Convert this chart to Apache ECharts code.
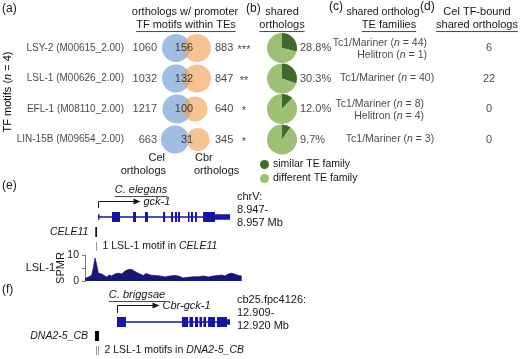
<!DOCTYPE html>
<html>
<head>
<meta charset="utf-8">
<script src="https://cdn.jsdelivr.net/npm/echarts@6/dist/echarts.min.js"></script>
<style>
html,body{margin:0;padding:0;background:#fff;}
#chart{width:520px;height:359px;}
</style>
</head>
<body>
<div id="chart"></div>
<script>
// ---------------- data ----------------
const motifNames = ['LSY-2 (M00615_2.00)', 'LSL-1 (M00626_2.00)', 'EFL-1 (M08110_2.00)', 'LIN-15B (M09654_2.00)'];
const celOrthologs = [1060, 1032, 1217, 663];
const sharedOrthologs = [156, 132, 100, 31];
const cbrOrthologs = [883, 847, 640, 345];
const significance = ['***', '**', '*', '*'];
const similarTEPct = [28.8, 30.3, 12.0, 9.7];
const tc1MarinerN = [44, 40, 8, 3];
const helitronN = [1, null, 4, null];
const celTFBoundShared = [6, 22, 0, 0];

// (e) C. elegans gck-1 locus; positions in kb from window start
const celWindowMb = ['8.947', '8.957'];
const celGene = [0.83, 9.24];
const celCDS = [[1.72, 2.23], [3.06, 3.25], [3.82, 4.01], [4.97, 5.10], [5.48, 5.61], [5.73, 5.86], [5.92, 6.05], [6.56, 6.66], [6.75, 6.88], [7.01, 7.13], [7.52, 8.28]];
const celUTR = [[0.83, 0.92], [8.28, 9.24]];
const cele11TE = [0.66, 0.76];
const celMotifs = [0.71];
const spmrPos = [0.00, 0.21, 0.42, 0.53, 0.64, 0.74, 0.85, 1.06, 1.17, 1.38, 1.55, 1.70, 1.91, 2.12, 2.34, 2.55, 2.76, 2.97, 3.08, 3.29, 3.50, 3.72, 3.89, 4.14, 4.46, 4.78, 5.10, 5.41, 5.73, 5.94, 6.26, 6.58, 6.90, 7.22, 7.54, 7.85, 8.17, 8.49, 8.71, 8.92, 9.13, 9.34, 9.55, 9.77, 9.98];
const spmrVal = [0.9, 1.5, 2.1, 5.0, 8.8, 6.2, 3.0, 2.7, 2.3, 1.5, 2.3, 1.9, 2.7, 3.0, 2.7, 3.8, 4.4, 4.4, 4.7, 3.3, 2.7, 2.1, 2.9, 2.3, 2.1, 1.9, 1.5, 1.9, 2.1, 1.9, 1.2, 1.4, 1.6, 1.6, 1.9, 1.5, 1.9, 2.1, 2.3, 1.9, 2.7, 3.0, 2.6, 2.1, 1.9];

// (f) C. briggsae Cbr-gck-1 locus; positions in kb from window start
const cbrWindowMb = ['12.909', '12.920'];
const cbrGene = [2.24, 10.16];
const cbrCDS = [[2.24, 2.87], [6.80, 7.22], [7.32, 7.57], [7.71, 7.92], [8.02, 8.20], [8.30, 8.48], [8.62, 9.11], [9.25, 9.95]];
const cbrUTR = [[9.95, 10.16]];
const dna25TE = [0.70, 0.98];
const cbrMotifs = [0.74, 0.88];

// ---------------- layout / style ----------------
const FONT = '"Liberation Sans", Arial, Helvetica, sans-serif';
const INK = '#161616';
const BLUE = '#a0bde2', ORANGE = '#f0a050';
const DARKG = '#3e6b2d', LIGHTG = '#9dc074';
const GENE = '#1616a6', TRACK = '#17177a';
const TOP = 32.75, BAND = 30.5;
const rowY = i => TOP + (i + 0.5) * BAND;
const ROWS = motifNames.map((_, i) => i);
const celX = [176, 176, 177, 175], celR = [14, 14, 14.5, 14];
const cbrX = [197, 197, 195, 198], cbrR = [14, 14, 12.5, 11.5];

const mctx = document.createElement('canvas').getContext('2d');
function tw(text, size, style) { mctx.font = (style || '') + ' ' + size + 'px ' + FONT; return mctx.measureText(text).width; }

const rich = {
  t: { fontFamily: FONT, fontSize: 10.5, color: INK },
  i: { fontFamily: FONT, fontSize: 10.5, color: INK, fontStyle: 'italic' }
};

function textCol(x, texts, o) {
  o = o || {};
  return {
    type: 'scatter', xAxisIndex: 0, yAxisIndex: 0, symbolSize: 0, silent: true, z: 10,
    data: texts.map((t, i) => t == null ? null : { value: [x, i], label: { formatter: String(t) } }).filter(d => d),
    label: {
      show: true, position: 'inside', align: o.align || 'center', verticalAlign: 'middle',
      offset: o.offset || [0, 0], fontFamily: FONT, fontSize: o.size || 11, color: INK, rich: o.rich
    }
  };
}

function headerText(x, y, text, size, align, underline, italic) {
  const els = [{
    type: 'text', x: x, y: y, silent: true,
    style: { text: text, font: (italic ? 'italic ' : '') + size + 'px ' + FONT, fill: INK, align: align || 'center', verticalAlign: 'middle' }
  }];
  if (underline) {
    const w = tw(text, size, italic ? 'italic' : '');
    const x0 = align === 'left' ? x : (align === 'right' ? x - w : x - w / 2);
    els.push({ type: 'line', silent: true, shape: { x1: x0, y1: y + size * 0.55 + 0.5, x2: x0 + w, y2: y + size * 0.55 + 0.5 }, style: { stroke: INK, lineWidth: 0.8 } });
  }
  return els;
}

// gene model series (exons, UTRs, gene line)
function geneSeries(g, gene, cds, utr) {
  const items = [[gene[0], gene[1], 0]].concat(utr.map(u => [u[0], u[1], 1])).concat(cds.map(c => [c[0], c[1], 2]));
  return {
    type: 'custom', xAxisIndex: g, yAxisIndex: g, silent: true, data: items,
    encode: { x: [0, 1], y: 2 },
    renderItem(params, api) {
      const a = api.coord([api.value(0), 0.5]), b = api.coord([api.value(1), 0.5]);
      const k = api.value(2);
      const h = k === 2 ? 10 : (k === 1 ? 5.5 : 1.3);
      return { type: 'rect', shape: { x: a[0], y: a[1] - h / 2, width: Math.max(b[0] - a[0], 1.3), height: h }, style: { fill: GENE } };
    }
  };
}
function tssSeries(g, gene, label, up) {
  return {
    type: 'custom', xAxisIndex: g, yAxisIndex: g, silent: true, data: [[gene[0], 0.5]],
    renderItem(params, api) {
      const p = api.coord([api.value(0), 0.5]);
      const x = Math.round(p[0]) + 0.5, yb = p[1] - 9, yt = Math.round(p[1] - up) + 0.5, x1 = x + 42;
      return {
        type: 'group', children: [
          { type: 'polyline', shape: { points: [[x, yb], [x, yt], [x1 - 5, yt]] }, style: { stroke: INK, lineWidth: 1, fill: null } },
          { type: 'polygon', shape: { points: [[x1 - 7, yt - 3], [x1, yt], [x1 - 7, yt + 3]] }, style: { fill: INK } },
          { type: 'text', style: { text: label, x: x1 + 3, y: yt, verticalAlign: 'middle', font: 'italic 11px ' + FONT, fill: INK } }
        ]
      };
    }
  };
}
function teSeries(g, te, teName, motifs, motifText, teTop, teBot) {
  return [{
    type: 'custom', xAxisIndex: g, yAxisIndex: g, silent: true, data: [[te[0], te[1]]],
    renderItem(params, api) {
      const a = api.coord([api.value(0), 0.5]), b = api.coord([api.value(1), 0.5]);
      return {
        type: 'group', children: [
          { type: 'rect', shape: { x: a[0], y: a[1] + teTop, width: Math.max(b[0] - a[0], 1.6), height: teBot - teTop }, style: { fill: '#000' } },
          { type: 'text', style: { text: teName, x: a[0] - 7, y: a[1] + (teTop + teBot) / 2, align: 'right', verticalAlign: 'middle', font: 'italic 10.5px ' + FONT, fill: INK } }
        ]
      };
    }
  }, {
    type: 'custom', xAxisIndex: g, yAxisIndex: g, silent: true, data: motifs.map((m, i) => [m, i]),
    renderItem(params, api) {
      const p = api.coord([api.value(0), 0.5]);
      const x = Math.round(p[0]) + 0.5;
      const ch = [{ type: 'line', shape: { x1: x, y1: p[1] + teBot + 5, x2: x, y2: p[1] + teBot + 14 }, style: { stroke: '#9a9a9a', lineWidth: 1 } }];
      if (params.dataIndex === motifs.length - 1) {
        ch.push({ type: 'text', style: { text: motifText, x: x + 6, y: p[1] + teBot + 9.5, verticalAlign: 'middle', rich: rich, font: '10.5px ' + FONT, fill: INK } });
      }
      return { type: 'group', children: ch };
    }
  }];
}

// ---------------- build option ----------------
const series = [];
// (a) Venn circles
series.push({
  type: 'scatter', xAxisIndex: 0, yAxisIndex: 0, silent: true, z: 2,
  data: ROWS.map(i => [celX[i], i]), symbolSize: (v, p) => celR[p.dataIndex] * 2,
  itemStyle: { color: BLUE, opacity: 1 }
});
series.push({
  type: 'scatter', xAxisIndex: 0, yAxisIndex: 0, silent: true, z: 3,
  data: ROWS.map(i => [cbrX[i], i]), symbolSize: (v, p) => cbrR[p.dataIndex] * 2,
  itemStyle: { color: ORANGE, opacity: 0.62 }
});
series.push(textCol(124, motifNames, { align: 'right', size: 10 }));
series.push(textCol(157, celOrthologs, { align: 'right' }));
series.push({ ...textCol(0, sharedOrthologs), data: ROWS.map(i => ({ value: [[184, 184, 184, 187][i], i], label: { formatter: String(sharedOrthologs[i]) } })) });
series.push(textCol(215, cbrOrthologs, { align: 'left' }));
series.push(textCol(244, significance, { size: 11, offset: [0, 2] }));
// (b) percentages
series.push(textCol(300, similarTEPct.map(v => v.toFixed(1) + '%'), { align: 'left' }));
// (c) TE families
const famRow = (i, name, n) => '{t|' + name + ' (}{i|n}{t| = ' + n + ')}';
series.push(textCol(0, [], {}));
series[series.length - 1].data = ROWS.map(i => {
  const two = helitronN[i] != null;
  const x = two ? (i === 0 ? 427 : 424) : (i === 1 ? 387 : 390);
  return { value: [x, i], label: { formatter: famRow(i, 'Tc1/Mariner', tc1MarinerN[i]), align: two ? 'right' : 'center', offset: [0, two ? -5 : 0] } };
}).concat(ROWS.filter(i => helitronN[i] != null).map(i => ({
  value: [i === 0 ? 427 : 424, i], label: { formatter: famRow(i, 'Helitron', helitronN[i]), align: 'right', offset: [0, 7.5] }
})));
series[series.length - 1].label.rich = rich;
// (d)
series.push(textCol(489, celTFBoundShared));
// (b) pies
ROWS.forEach(i => {
  series.push({
    type: 'pie', center: [282, rowY(i)], radius: 15, startAngle: 90, clockwise: true, silent: true,
    label: { show: false }, labelLine: { show: false }, emphasis: { disabled: true },
    itemStyle: { borderWidth: 0 },
    data: [
      { name: 'similar TE family', value: similarTEPct[i], itemStyle: { color: DARKG } },
      { name: 'different TE family', value: +(100 - similarTEPct[i]).toFixed(1), itemStyle: { color: LIGHTG } }
    ]
  });
});
// (e) gene, TE, motifs, SPMR track
series.push(geneSeries(1, celGene, celCDS, celUTR));
series.push(tssSeries(1, celGene, 'gck-1', 16.5));
series.push(...teSeries(1, cele11TE, 'CELE11', celMotifs, '{t|' + celMotifs.length + ' LSL-1 motif in }{i|CELE11}', 10, 20));
series.push({
  type: 'line', xAxisIndex: 2, yAxisIndex: 2, silent: true, symbol: 'none', smooth: false,
  data: spmrPos.map((p, i) => [p, spmrVal[i]]),
  lineStyle: { color: TRACK, width: 0.8 }, areaStyle: { color: TRACK, opacity: 1 }
});
// (f)
series.push(geneSeries(3, cbrGene, cbrCDS, cbrUTR));
series.push(tssSeries(3, cbrGene, 'Cbr-gck-1', 17.5));
series.push(...teSeries(3, dna25TE, 'DNA2-5_CB', cbrMotifs, '{t|' + cbrMotifs.length + ' LSL-1 motifs in }{i|DNA2-5_CB}', 9, 19));

const graphics = [].concat(
  headerText(2, 9, '(a)', 12, 'left'),
  headerText(246, 9, '(b)', 12, 'left'),
  headerText(329, 7, '(c)', 12, 'left'),
  headerText(420, 7, '(d)', 12, 'left'),
  headerText(2, 186, '(e)', 12, 'left'),
  headerText(2, 290, '(f)', 12, 'left'),
  headerText(185, 12, 'orthologs w/ promoter', 11),
  headerText(186, 25, 'TF motifs within TEs', 11, 'center', true),
  headerText(282, 12, 'shared', 11),
  headerText(282, 25, 'orthologs', 11, 'center', true),
  headerText(383, 12, 'shared ortholog', 10.5),
  headerText(389, 25, 'TE families', 11, 'center', true),
  headerText(477, 12, 'Cel TF-bound', 11),
  headerText(477, 25, 'shared orthologs', 11, 'center', true),
  headerText(165, 158, 'Cel', 11, 'right'),
  headerText(166, 171, 'orthologs', 11, 'right'),
  headerText(195, 158, 'Cbr', 11, 'left'),
  headerText(194, 171, 'orthologs', 11, 'left'),
  headerText(141, 190, 'C. elegans', 11, 'center', true, true),
  headerText(137, 295, 'C. briggsae', 11, 'center', true, true),
  headerText(55, 268, 'LSL-1', 11, 'right'),
  [{
    type: 'text', x: 237, y: 197, silent: true,
    style: { text: 'chrV:\n' + celWindowMb[0] + '-\n' + celWindowMb[1] + ' Mb', font: '11px ' + FONT, lineHeight: 13, fill: INK, verticalAlign: 'top' }
  }, {
    type: 'text', x: 237, y: 300, silent: true,
    style: { text: 'cb25.fpc4126:\n' + cbrWindowMb[0] + '-\n' + cbrWindowMb[1] + ' Mb', font: '11px ' + FONT, lineHeight: 13, fill: INK, verticalAlign: 'top' }
  }, {
    type: 'text', x: 8, y: 92, rotation: Math.PI / 2, silent: true,
    style: {
      text: '{t|TF motifs (}{i|n}{t| = 4)}', align: 'center', verticalAlign: 'middle',
      rich: { t: { fontFamily: FONT, fontSize: 11, color: INK }, i: { fontFamily: FONT, fontSize: 11, color: INK, fontStyle: 'italic' } }
    }
  }]
);
// shift the multi-line coordinate text so that its first line centres on the given y
graphics.filter(g => g.style && g.style.lineHeight).forEach(g => { g.y -= 6.5; });

const hiddenX = (min, max, g) => ({ type: 'value', gridIndex: g, min: min, max: max, show: false });
const hiddenY = (g) => ({ type: 'value', gridIndex: g, min: 0, max: 1, show: false });

const option = {
  animation: false,
  backgroundColor: '#fff',
  textStyle: { fontFamily: FONT },
  grid: [
    { left: 0, top: TOP, width: 520, height: BAND * 4 },
    { left: 85, top: 212, width: 157, height: 10 },
    { left: 85, top: 255, width: 157, height: 26 },
    { left: 85, top: 317, width: 157, height: 10 }
  ],
  xAxis: [hiddenX(0, 520, 0), hiddenX(0, 10, 1), hiddenX(0, 10, 2), hiddenX(0, 11, 3)],
  yAxis: [
    { type: 'value', gridIndex: 0, min: -0.5, max: 3.5, inverse: true, show: false },
    hiddenY(1),
    {
      type: 'value', gridIndex: 2, min: 0, max: 10, interval: 5, offset: 3,
      name: 'SPMR', nameLocation: 'middle', nameGap: 16, nameRotate: 90, nameMoveOverlap: false,
      nameTextStyle: { fontFamily: FONT, fontSize: 11, color: INK },
      splitLine: { show: false },
      axisLine: { show: true, lineStyle: { color: '#777', width: 1 } },
      axisTick: { show: true, length: 3, lineStyle: { color: '#777' } },
      axisLabel: { margin: 3, fontFamily: FONT, fontSize: 10.5, color: INK, formatter: v => (v === 5 ? '' : String(v)) }
    },
    hiddenY(3)
  ],
  legend: {
    left: 255, top: 154, orient: 'vertical', icon: 'circle', itemWidth: 9, itemHeight: 9, itemGap: 3,
    selectedMode: false, textStyle: { fontFamily: FONT, fontSize: 10.5, color: INK, padding: [0, 0, 0, -1] },
    data: ['similar TE family', 'different TE family']
  },
  series: series,
  graphic: graphics
};

const chart = echarts.init(document.getElementById('chart'), null, { renderer: 'canvas' });
chart.setOption(option);
</script>
</body>
</html>
